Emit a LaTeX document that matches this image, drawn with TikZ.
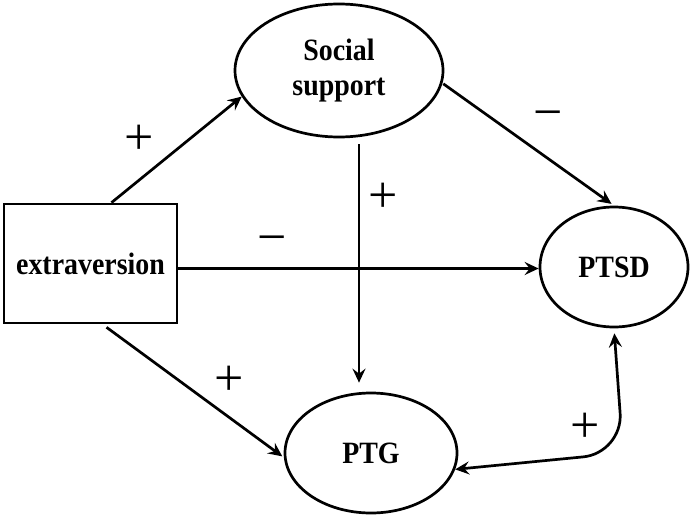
\documentclass[tikz,border=0pt]{standalone}
\usepackage{fontspec}
\setmainfont{Liberation Serif}
\newfontfamily\labelfont[FakeStretch=0.9]{Liberation Serif}
\usepackage{tikz}
\usetikzlibrary{arrows.meta,positioning,shapes.geometric}

\tikzset{
  var/.style={draw,ellipse,line width=2.7pt,inner sep=0pt,align=center},
  obs/.style={draw,rectangle,line width=2.7pt,inner sep=0pt},
  link/.style={line width=2.7pt,-{Stealth[length=14pt,width=13pt,inset=5pt]}},
  both/.style={line width=2.7pt,{Stealth[length=14pt,width=13pt,inset=5pt]}-{Stealth[length=14pt,width=13pt,inset=5pt]}},
  sign/.style={font=\fontsize{52}{52}\selectfont}
}

\begin{document}
\begin{tikzpicture}[x=1pt,y=-1pt,font=\labelfont\fontsize{31}{35}\selectfont\bfseries]
\useasboundingbox (0,0) rectangle (700,516);
\node[var,minimum width=208,minimum height=133] (SS) at (339,70.5) {Social\\support};
\node[obs,minimum width=173,minimum height=119] (EX) at (90.5,263.5) {extraversion};
\node[var,minimum width=148,minimum height=120] (PTSD) at (614,267) {PTSD};
\node[var,minimum width=172,minimum height=120] (PTG) at (371,453) {PTG};
% paths
\draw[link] (EX.71) -- (SS.195);
\draw[link,shorten <=1pt,shorten >=3pt] (SS.-7) -- (PTSD.north);
\draw[link,shorten <=6pt,shorten >=9pt] ([xshift=20pt]SS.south) -- ([xshift=20pt]SS.south |- PTG.north);
\draw[link] ([yshift=-5pt]EX.east) -- ([yshift=-5pt]EX.east -| PTSD.west);
\draw[link,shorten <=5pt,shorten >=2pt] ([xshift=12pt]EX.south) -- (PTG.183);
\draw[both,rounded corners=40pt,shorten >=5pt] (PTG.-11) -- ([xshift=9pt]PTSD.south |- PTG.east) -- (PTSD.south);
% signs
\foreach \p/\s in {(139,140)/+,(548,120)/\char"2212,(383,198)/+,(272,245)/\char"2212,(229,381)/+,(585,428)/+}
  \node[sign] at \p {\s};
\end{tikzpicture}
\end{document}
